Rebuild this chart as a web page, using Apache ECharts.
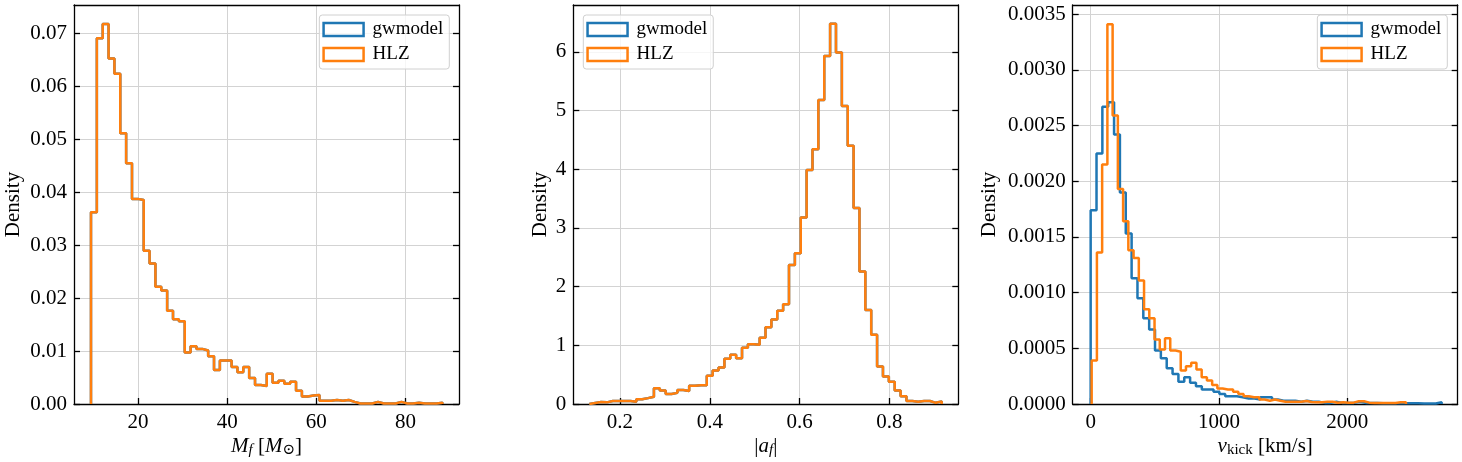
<!DOCTYPE html>
<html>
<head>
<meta charset="utf-8">
<script src="https://cdn.jsdelivr.net/npm/echarts@6/dist/echarts.min.js"></script>
<style>
  html, body { margin: 0; padding: 0; background: #fff; }
  #chart { width: 1462px; height: 462px; }
</style>
</head>
<body>
<div id="chart"></div>
<script>
// histogram bin ranges (first edge, last edge), 60 bins each
const massRange = [9.46, 88.3];
const spinRange = [0.1317, 0.9167];
const kickGwRange = [0, 2735];
const kickHlzRange = [7.8, 2457];

// density per bin
const massHlz = [
  0.0362, 0.0690, 0.0717, 0.0652, 0.0623, 0.0511, 0.0454, 0.0387, 0.0385, 0.0289,
  0.0265, 0.0221, 0.0214, 0.0176, 0.0160, 0.0156, 0.0097, 0.0109, 0.0104, 0.0101,
  0.0090, 0.0064, 0.0082, 0.0082, 0.0070, 0.0060, 0.0070, 0.0049, 0.0036, 0.0034,
  0.0057, 0.0040, 0.0044, 0.0038, 0.0042, 0.0025, 0.0014, 0.0016, 0.0017, 0.0006,
  0.0006, 0.00075, 0.0006, 0.00075, 0.0004, 0.0001, 0.0001, 0.0001, 0.0004, 0.0001,
  0.0001, 0.0001, 0.0004, 0.0001, 0.0001, 0.00025, 0.0001, 0.0001, 0.0001, 0.00025
];
const massGw = massHlz.slice();

const spinHlz = [
  0.017, 0.034, 0.028, 0.05, 0.05, 0.05, 0.05, 0.04, 0.08, 0.10,
  0.125, 0.27, 0.23, 0.17, 0.19, 0.24, 0.22, 0.31, 0.32, 0.32,
  0.48, 0.57, 0.62, 0.77, 0.84, 0.78, 0.96, 1.02, 1.01, 1.13,
  1.31, 1.44, 1.59, 1.70, 2.37, 2.57, 3.18, 3.99, 4.34, 5.18,
  5.93, 6.48, 5.99, 5.08, 4.40, 3.34, 2.26, 1.60, 1.18, 0.64,
  0.47, 0.38, 0.23, 0.13, 0.05, 0.04, 0.05, 0.05, 0.02, 0.045
];
const spinGw = spinHlz.slice();

const kickGw = [
  0.00174, 0.00225, 0.00267, 0.00271, 0.00242, 0.00190, 0.00153, 0.00113, 0.00095, 0.00077,
  0.00067, 0.00048, 0.00041, 0.00032, 0.00027, 0.00020, 0.00024, 0.00019, 0.00016, 0.00013,
  0.00013, 0.00011, 0.00009, 0.00007, 0.00007, 0.00006, 0.00005, 0.00005, 0.00004, 0.00006,
  0.00006, 0.00004, 0.00003, 0.00003, 0.00003, 0.00002, 0.00003, 0.00002, 0.00002, 0.00001,
  0.00001, 0.00002, 0.00001, 0.00001, 0.00001, 0.00002, 0.00001, 0.000008, 0.00001, 0.000006,
  0.000006, 0.000006, 0.000006, 0.000006, 0.000006, 0.000006, 0.000004, 0.000004, 0.000004, 0.000015
];
const kickHlz = [
  0.00039, 0.00136, 0.00215, 0.00341, 0.00259, 0.00193, 0.00164, 0.00138, 0.00131, 0.00111,
  0.00085, 0.00077, 0.00058, 0.00049, 0.00059, 0.00048, 0.00047, 0.00030, 0.00034, 0.00037,
  0.00031, 0.00024, 0.00021, 0.00017, 0.00014, 0.00013, 0.00013, 0.00011, 0.00009, 0.00007,
  0.00006, 0.00006, 0.00004, 0.00003, 0.00004, 0.00003, 0.00002, 0.00002, 0.00002, 0.00002,
  0.000027, 0.000018, 0.000015, 0.000015, 0.00002, 0.00002, 0.000012, 0.000015, 0.000012, 0.000012,
  0.000024, 0.000024, 0.000012, 0.00001, 0.000008, 0.000008, 0.000008, 0.000008, 0.000015, 0.000015
];

// tick labels
const massTicks = [20, 40, 60, 80];
const spinTicks = [0.2, 0.4, 0.6, 0.8];
const kickTicks = [0, 1000, 2000];
const massYTicks = [0, 0.01, 0.02, 0.03, 0.04, 0.05, 0.06, 0.07];
const spinYTicks = [0, 1, 2, 3, 4, 5, 6];
const kickYTicks = [0, 0.0005, 0.001, 0.0015, 0.002, 0.0025, 0.003, 0.0035];

const BLUE = '#1f77b4';
const ORANGE = '#ff7f0e';
const FONT = "'Liberation Serif', 'DejaVu Serif', serif";

// step outline like matplotlib histtype='step'
function stepData(range, vals) {
  const n = vals.length;
  const w = (range[1] - range[0]) / n;
  const pts = [[range[0], 0]];
  for (let i = 0; i < n; i++) pts.push([range[0] + i * w, vals[i]]);
  pts.push([range[1], 0]);
  return pts;
}

const rich = {
  it: { fontFamily: FONT, fontStyle: 'italic', fontSize: 21, lineHeight: 24, color: '#000' },
  rm: { fontFamily: FONT, fontSize: 21, lineHeight: 24, color: '#000' },
  sub: { fontFamily: FONT, fontStyle: 'italic', fontSize: 15, lineHeight: 10, verticalAlign: 'bottom', color: '#000' },
  subrm: { fontFamily: FONT, fontSize: 15, lineHeight: 10, verticalAlign: 'bottom', color: '#000' }
};

const panels = [
  {
    left: 74, xMin: 5.65, xMax: 92.0, xTicks: massTicks, xFmt: v => String(v),
    yMax: 0.07528, yTicks: massYTicks, yFmt: v => v.toFixed(2), yGap: 50,
    xName: '{it|M}{sub|f}{rm| [}{it|M}{subrm|⊙}{rm|]}',
    gw: stepData(massRange, massGw), hlz: stepData(massRange, massHlz),
    legend: { right: 1462 - 449.3 }
  },
  {
    left: 573.3, xMin: 0.096, xMax: 0.9537, xTicks: spinTicks, xFmt: v => v.toFixed(1),
    yMax: 6.80, yTicks: spinYTicks, yFmt: v => String(v), yGap: 22,
    xName: '{rm||}{it|a}{sub|f}{rm||}',
    gw: stepData(spinRange, spinGw), hlz: stepData(spinRange, spinHlz),
    legend: { left: 583.3 }
  },
  {
    left: 1072.7, xMin: -140, xMax: 2860, xTicks: kickTicks, xFmt: v => String(v),
    yMax: 0.003583, yTicks: kickYTicks, yFmt: v => v.toFixed(4), yGap: 73,
    xName: '{it|v}{subrm|kick}{rm| [km/s]}',
    gw: stepData(kickGwRange, kickGw), hlz: stepData(kickHlzRange, kickHlz),
    legend: { right: 1462 - 1447.3 }
  }
];

const grid = [], xAxis = [], yAxis = [], series = [], legend = [];
const axisLine = { show: true, onZero: false, lineStyle: { color: '#000', width: 1.3 } };
const labelStyle = { color: '#000', fontFamily: FONT, fontSize: 21 };

panels.forEach((p, i) => {
  grid.push({ left: p.left, top: 5, width: 385, height: 399, containLabel: false, outerBoundsMode: 'none' });
  xAxis.push({
    gridIndex: i, type: 'value', position: 'bottom', min: p.xMin, max: p.xMax,
    axisLine: axisLine,
    axisTick: { inside: true, length: 6, customValues: p.xTicks, lineStyle: { color: '#000', width: 1.3 } },
    axisLabel: Object.assign({ customValues: p.xTicks, formatter: p.xFmt, margin: 8 }, labelStyle),
    splitLine: { show: true, lineStyle: { color: '#d3d3d3', width: 1 } },
    name: p.xName, nameLocation: 'middle', nameGap: 30, nameMoveOverlap: false,
    nameTextStyle: { rich: rich }
  });
  xAxis.push({
    gridIndex: i, type: 'value', position: 'top', min: p.xMin, max: p.xMax,
    axisLine: axisLine, axisTick: { show: false }, axisLabel: { show: false }, splitLine: { show: false }
  });
  yAxis.push({
    gridIndex: i, type: 'value', position: 'left', min: 0, max: p.yMax,
    axisLine: axisLine,
    axisTick: { inside: true, length: 6, customValues: p.yTicks, lineStyle: { color: '#000', width: 1.3 } },
    axisLabel: Object.assign({ customValues: p.yTicks, formatter: p.yFmt, margin: 7 }, labelStyle),
    splitLine: { show: true, lineStyle: { color: '#d3d3d3', width: 1 } },
    name: 'Density', nameLocation: 'middle', nameGap: p.yGap, nameMoveOverlap: false,
    nameTextStyle: { color: '#000', fontFamily: FONT, fontSize: 21 }
  });
  yAxis.push({
    gridIndex: i, type: 'value', position: 'right', min: 0, max: p.yMax,
    axisLine: axisLine,
    axisTick: { inside: true, length: 6, customValues: p.yTicks, lineStyle: { color: '#000', width: 1.3 } },
    axisLabel: { show: false }, splitLine: { show: false }
  });
  series.push({
    name: 'gwmodel', type: 'line', step: 'end', symbol: 'none', data: p.gw,
    xAxisIndex: 2 * i, yAxisIndex: 2 * i, color: BLUE,
    lineStyle: { color: BLUE, width: 2.5 }, z: 3
  });
  series.push({
    name: 'HLZ', type: 'line', step: 'end', symbol: 'none', data: p.hlz,
    xAxisIndex: 2 * i, yAxisIndex: 2 * i, color: ORANGE,
    lineStyle: { color: ORANGE, width: 2.5 }, z: 4
  });
  legend.push(Object.assign({
    top: 15, orient: 'vertical', icon: 'rect', itemWidth: 40, itemHeight: 13, itemGap: 6,
    padding: [5, 6, 5, 3], selectedMode: false,
    backgroundColor: 'rgba(255,255,255,0.8)', borderColor: '#d0d0d0', borderWidth: 1, borderRadius: 3,
    textStyle: { color: '#000', fontFamily: FONT, fontSize: 19, lineHeight: 15, padding: [0, 0, 0, 4] },
    data: [
      { name: 'gwmodel', itemStyle: { color: 'rgba(0,0,0,0)', borderColor: BLUE, borderWidth: 2.5 } },
      { name: 'HLZ', itemStyle: { color: 'rgba(0,0,0,0)', borderColor: ORANGE, borderWidth: 2.5 } }
    ]
  }, p.legend));
});

const chart = echarts.init(document.getElementById('chart'), null, { renderer: 'canvas' });
chart.setOption({
  animation: false,
  backgroundColor: '#fff',
  grid: grid,
  xAxis: xAxis,
  yAxis: yAxis,
  legend: legend,
  series: series
});
</script>
</body>
</html>
